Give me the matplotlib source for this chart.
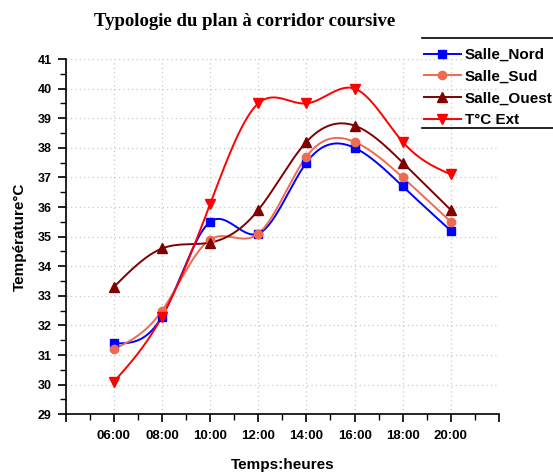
import numpy as np
import matplotlib
matplotlib.use("Agg")
import matplotlib.pyplot as plt
from matplotlib.lines import Line2D
from matplotlib.ticker import MultipleLocator

hours = [6, 8, 10, 12, 14, 16, 18, 20]
hour_labels = ["06:00", "08:00", "10:00", "12:00", "14:00", "16:00", "18:00", "20:00"]
salle_nord = [31.4, 32.3, 35.5, 35.1, 37.5, 38.0, 36.7, 35.2]
salle_sud = [31.2, 32.5, 34.9, 35.1, 37.7, 38.2, 37.0, 35.5]
salle_ouest = [33.3, 34.6, 34.8, 35.9, 38.2, 38.75, 37.5, 35.9]
t_ext = [30.1, 32.3, 36.1, 39.5, 39.5, 40.0, 38.2, 37.1]


def natural_spline(x, y, n=300):
    x = np.asarray(x, float)
    y = np.asarray(y, float)
    m = len(x)
    h = np.diff(x)
    A = np.zeros((m, m))
    b = np.zeros(m)
    A[0, 0] = 1
    A[-1, -1] = 1
    for i in range(1, m - 1):
        A[i, i - 1] = h[i - 1]
        A[i, i] = 2 * (h[i - 1] + h[i])
        A[i, i + 1] = h[i]
        b[i] = 6 * ((y[i + 1] - y[i]) / h[i] - (y[i] - y[i - 1]) / h[i - 1])
    M = np.linalg.solve(A, b)
    xs = np.linspace(x[0], x[-1], n)
    ys = np.empty_like(xs)
    for k, xv in enumerate(xs):
        i = min(np.searchsorted(x, xv, side="right") - 1, m - 2)
        t1 = x[i + 1] - xv
        t0 = xv - x[i]
        ys[k] = (M[i] * t1 ** 3 / (6 * h[i]) + M[i + 1] * t0 ** 3 / (6 * h[i])
                 + (y[i] / h[i] - M[i] * h[i] / 6) * t1
                 + (y[i + 1] / h[i] - M[i + 1] * h[i] / 6) * t0)
    return xs, ys


fig = plt.figure(figsize=(5.53, 4.75), dpi=100)
ax = fig.add_axes([65.7 / 553, 1 - 414.3 / 475, (499 - 65.7) / 553, (414.3 - 59) / 475])

series = [
    ("Salle_Nord", salle_nord, "#0000FF", "s", 5.5),
    ("Salle_Sud", salle_sud, "#EE6A50", "o", 6),
    ("Salle_Ouest", salle_ouest, "#800000", "^", 6.5),
    ("T°C Ext", t_ext, "#FF0000", "v", 7),
]
handles = []
for name, vals, col, mk, ms in series:
    xs, ys = natural_spline(hours, vals)
    ax.plot(xs, ys, color=col, lw=1.4, zorder=3)
    ax.plot(hours, vals, linestyle="none", marker=mk, color=col, ms=ms, zorder=4)
    handles.append(Line2D([], [], color=col, lw=1.4, marker=mk, ms=ms))

ax.set_xlim(4, 22)
ax.set_ylim(29, 41)
ax.set_xticks([4] + hours + [22])
ax.set_xticklabels([""] + hour_labels + [""])
ax.xaxis.set_minor_locator(MultipleLocator(1))
ax.yaxis.set_major_locator(MultipleLocator(1))
ax.yaxis.set_minor_locator(MultipleLocator(0.5))
ax.tick_params(which="major", direction="out", length=6, width=1.2)
ax.tick_params(which="minor", direction="out", length=4, width=1.0)
ax.tick_params(axis="x", pad=5)
ax.tick_params(axis="y", pad=4)
for lab in ax.get_xticklabels():
    lab.set_fontfamily("Liberation Sans")
    lab.set_fontweight("bold")
    lab.set_fontsize(9.5)
for lab in ax.get_yticklabels():
    lab.set_fontfamily("Liberation Sans")
    lab.set_fontweight("bold")
    lab.set_fontsize(9)

ax.spines["top"].set_visible(False)
ax.spines["right"].set_visible(False)
ax.spines["left"].set_linewidth(1.2)
ax.spines["bottom"].set_linewidth(1.2)

ax.grid(True, which="major", color="#c8c8c8", linestyle=(0, (1, 2.5)), lw=0.9)
ax.set_axisbelow(True)

ax.set_xlabel("Temps:heures", fontfamily="Liberation Sans", fontweight="bold", fontsize=11, labelpad=12)
ax.set_ylabel("Température°C", fontfamily="Liberation Sans", fontweight="bold", fontsize=11, labelpad=8)

fig.text(244.5 / 553, 0.955, "Typologie du plan à corridor coursive", ha="center", va="center",
         fontfamily="Liberation Serif", fontweight="bold", fontsize=13.5)

leg = fig.legend(handles, [s[0] for s in series], loc="upper left",
                 bbox_to_anchor=(418 / 553, 1 - 42 / 475), frameon=False,
                 prop={"family": "Liberation Sans", "weight": "bold", "size": 11},
                 handlelength=2.4, handletextpad=0.25, labelspacing=0.5, borderaxespad=0)
y_top = 1 - 38 / 475
y_bot = 1 - 128 / 475
for yy in (y_top, y_bot):
    fig.add_artist(Line2D([422 / 553, 1.0], [yy, yy], transform=fig.transFigure, color="black", lw=1.2))

fig.savefig("out.png", dpi=100)
